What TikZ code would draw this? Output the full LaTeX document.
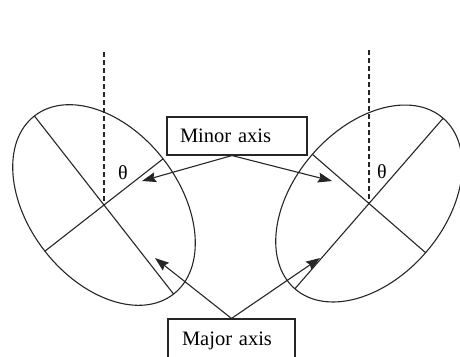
\documentclass[tikz,border=0pt]{standalone}
\usepackage{fontspec}
\setmainfont{Liberation Serif}
\usetikzlibrary{arrows.meta}
\begin{document}
\begin{tikzpicture}[x=1pt, y=-1pt,
    every node/.style={font=\fontsize{20.5}{24}\selectfont},
    namebox/.style={rectangle, draw=black!85, line width=1.1pt, inner ysep=0pt, align=left},
    outline/.style={draw=black!85, line width=1.1pt},
    vertical/.style={black!85, line width=1.1pt, dash pattern=on 5pt off 3pt},
    pointer/.style={black!85, line width=1.1pt, -{Stealth[length=14pt, width=10pt, inset=2pt]}},
    angle/.style={font=\fontsize{20}{22}\selectfont}
  ]
    \useasboundingbox (0,0) rectangle (460,356);
    \coordinate (lc) at (104,205);
    \coordinate (rc) at (369,203.5);

    % left ellipse with its two axes
    \begin{scope}[shift={(lc)}, rotate=128]
      \draw[outline] (0,0) ellipse [x radius=113, y radius=75];
      \draw[outline] (-113,0) -- (113,0);
      \draw[outline] (0,-75) -- (0,75);
    \end{scope}
    % right ellipse with its two axes
    \begin{scope}[shift={(rc)}, rotate=49]
      \draw[outline] (0,0) ellipse [x radius=113, y radius=75];
      \draw[outline] (-113,0) -- (113,0);
      \draw[outline] (0,-75) -- (0,75);
    \end{scope}

    \draw[vertical] (104,52) -- (lc);
    \draw[vertical] (369,50) -- (rc);
    \node[angle] (ltheta) at (123,173) {θ};
    \node[angle] (rtheta) at (382,172) {θ};

    \node[namebox, inner xsep=13pt, text width=114pt, minimum height=38pt] (minor) at (237,136) {Minor axis};
    \node[namebox, inner xsep=14pt, text width=99pt, minimum height=43pt] (major) at (231.5,340.5) {Major axis};

    \coordinate (lminor) at (142,181);
    \coordinate (rminor) at (332,181);
    \coordinate (lmajor) at (155,258);
    \coordinate (rmajor) at (320,258);
    \draw[pointer] ([xshift=-5pt]minor.south) -- (lminor);
    \draw[pointer] ([xshift=-5pt]minor.south) -- (rminor);
    \draw[pointer] (major.north) -- (lmajor);
    \draw[pointer] (major.north) -- (rmajor);
  \end{tikzpicture}
\end{document}
